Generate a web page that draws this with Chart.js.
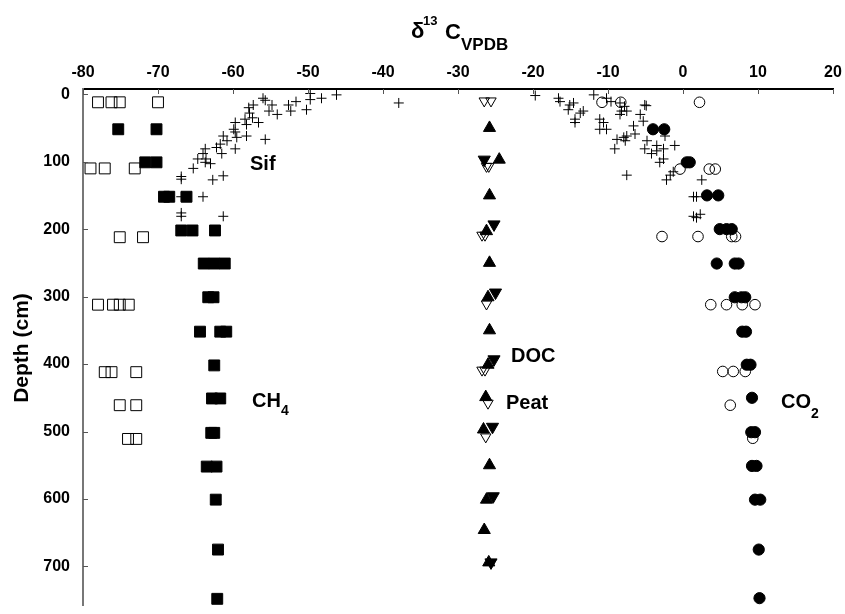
<!DOCTYPE html>
<html>
<head>
<meta charset="utf-8">
<script src="https://cdn.jsdelivr.net/npm/chart.js@4"></script>
<style>
  html, body { margin: 0; padding: 0; background: #ffffff; }
  #c { display: block; }
</style>
</head>
<body>
<canvas id="c" width="845" height="614"></canvas>
<script>
// ---- Data: [delta13C (‰ VPDB), depth (cm)] ----
const xTickValues = [-80, -70, -60, -50, -40, -30, -20, -10, 0, 10, 20];
const depthTickValues = [0, 100, 200, 300, 400, 500, 600, 700];

const ch4Open = [
  [-78.0, 12], [-76.2, 12], [-75.1, 12], [-70.0, 12],
  [-79.0, 110], [-77.1, 110], [-73.1, 110],
  [-75.1, 212], [-72.0, 212],
  [-78.0, 312], [-76.0, 312], [-75.1, 312], [-73.9, 312],
  [-77.1, 412], [-76.2, 412], [-72.9, 412],
  [-75.1, 461], [-72.9, 461],
  [-74.0, 511], [-72.9, 511]
];
const ch4Filled = [
  [-75.3, 52], [-70.2, 52],
  [-71.7, 101], [-70.2, 101],
  [-69.2, 152], [-68.5, 152], [-66.2, 152],
  [-66.9, 202], [-65.4, 202], [-62.4, 202],
  [-63.9, 251], [-62.5, 251], [-61.1, 251],
  [-63.3, 301], [-62.6, 301],
  [-64.4, 352], [-61.7, 352], [-60.9, 352],
  [-62.5, 402],
  [-62.8, 451], [-61.7, 451],
  [-62.9, 502], [-62.5, 502],
  [-63.5, 552], [-62.2, 552],
  [-62.3, 601],
  [-62.0, 675],
  [-62.1, 748]
];
const sif = [
  [-49.7, -1], [-48.2, 6], [-46.2, 1], [-49.7, 8], [-56.0, 6], [-55.7, 9],
  [-57.3, 16], [-57.9, 20], [-54.8, 16], [-55.2, 25], [-54.1, 30], [-52.6, 16],
  [-51.6, 11], [-52.3, 25], [-50.2, 23], [-57.8, 28], [-57.4, 35], [-58.4, 37],
  [-56.6, 42], [-58.2, 45], [-59.7, 42], [-59.9, 52], [-59.7, 56], [-58.2, 62],
  [-55.7, 67], [-59.5, 64], [-61.3, 62], [-60.8, 69], [-61.7, 74], [-62.2, 79],
  [-59.7, 81], [-63.7, 81], [-64.0, 88], [-61.5, 88], [-63.6, 96], [-64.7, 96],
  [-63.0, 103], [-63.7, 101], [-65.3, 110], [-66.9, 122], [-66.9, 126],
  [-62.7, 127], [-61.3, 121], [-64.0, 152], [-66.9, 152], [-66.9, 176],
  [-66.9, 181], [-61.3, 181], [-37.9, 13],
  [-19.7, 2], [-16.6, 6], [-16.4, 11], [-15.1, 16], [-15.3, 23], [-14.6, 13],
  [-13.3, 25], [-13.7, 28], [-14.4, 37], [-14.4, 42], [-11.9, 1], [-10.2, 6],
  [-8.4, 13], [-8.2, 25], [-8.4, 30], [-7.5, 25], [-5.1, 16], [-5.7, 30],
  [-5.3, 40], [-6.6, 47], [-11.1, 37], [-10.6, 42], [-11.1, 52], [-10.2, 52],
  [-6.4, 59], [-7.5, 62], [-7.9, 64], [-8.8, 67], [-9.1, 81], [-7.7, 69],
  [-4.8, 69], [-5.1, 81], [-4.2, 88], [-3.5, 76], [-2.6, 81], [-2.4, 62],
  [-1.1, 76], [-3.5, 84], [-3.1, 101], [-2.6, 96], [-7.5, 120], [-2.2, 127],
  [-1.7, 120], [-1.3, 115], [2.5, 127], [1.4, 152], [1.8, 152], [1.4, 181],
  [2.3, 178], [1.8, 183], [-9.6, 11], [-7.8, 18], [-4.9, 17]
];
const co2Open = [
  [-10.8, 12], [-8.3, 12], [2.2, 12],
  [-0.4, 111], [3.5, 111], [4.3, 111],
  [-2.8, 211], [2.0, 211], [6.5, 211], [7.0, 211],
  [3.7, 312], [5.8, 312], [7.9, 312], [9.6, 312],
  [5.3, 411], [6.7, 411], [8.3, 411],
  [6.3, 461],
  [9.3, 510]
];
const co2Filled = [
  [-4.0, 52], [-2.5, 52],
  [0.5, 101], [0.9, 101],
  [3.2, 150], [4.7, 150],
  [4.9, 200], [5.8, 200], [6.5, 200],
  [4.5, 251], [6.9, 251], [7.4, 251],
  [6.9, 301], [7.8, 301], [8.3, 301],
  [7.9, 352], [8.4, 352],
  [8.5, 401], [9.0, 401],
  [9.2, 450],
  [9.1, 501], [9.6, 501],
  [9.2, 551], [9.8, 551],
  [9.6, 601], [10.3, 601],
  [10.1, 675],
  [10.2, 747]
];
const peatUp = [
  [-25.8, 50], [-24.5, 97], [-25.8, 150], [-26.2, 203], [-25.8, 250],
  [-26.0, 301], [-25.8, 350], [-26.0, 401], [-26.3, 449], [-26.6, 497],
  [-25.8, 550], [-26.2, 601], [-26.5, 646], [-25.9, 694]
];
const docDown = [
  [-26.5, 97], [-25.2, 193], [-25.0, 294], [-25.2, 393], [-25.4, 493],
  [-25.3, 596], [-25.6, 694]
];
const docOpen = [
  [-26.5, 10], [-25.6, 10], [-26.2, 107], [-25.9, 107], [-26.8, 209],
  [-26.4, 209], [-26.2, 311], [-26.8, 409], [-26.4, 409], [-26.0, 458],
  [-26.3, 508]
];

const FONT = '"Liberation Sans", Arial, sans-serif';
const toPts = arr => arr.map(p => ({ x: p[0], y: p[1] }));

function ds(label, arr, style, opts) {
  return Object.assign({
    label: label,
    data: toPts(arr),
    showLine: false,
    pointStyle: style,
    borderColor: '#000',
    backgroundColor: '#000',
    borderWidth: 1,
    pointRadius: 5,
    pointHoverRadius: 5
  }, opts || {});
}

const datasets = [
  ds('CO2 filled', co2Filled, 'circle', { pointRadius: 5.6 }),
  ds('CH4 filled', ch4Filled, 'rect', { pointRadius: 7.7 }),
  ds('Peat', peatUp, 'triangle', { pointRadius: 7 }),
  ds('DOC', docDown, 'triangle', { pointRadius: 7, rotation: 180 }),
  ds('Sif', sif, 'cross', { pointRadius: 5, backgroundColor: 'rgba(0,0,0,0)' }),
  ds('DOC open', docOpen, 'triangle', { pointRadius: 6, rotation: 180, backgroundColor: 'rgba(0,0,0,0)' }),
  ds('CO2 open', co2Open, 'circle', { pointRadius: 5.3, backgroundColor: 'rgba(0,0,0,0)' }),
  ds('CH4 open', ch4Open, 'rect', { pointRadius: 7.7, backgroundColor: 'rgba(0,0,0,0)' })
];

const annotate = {
  id: 'annotate',
  afterDraw(chart) {
    const ctx = chart.ctx;
    const xs = chart.scales.x, ys = chart.scales.y;
    ctx.save();
    // inward tick marks
    ctx.strokeStyle = '#555';
    ctx.lineWidth = 1;
    ctx.beginPath();
    xTickValues.forEach(v => {
      const px = Math.round(xs.getPixelForValue(v)) + 0.5;
      ctx.moveTo(px, ys.top);
      ctx.lineTo(px, ys.top + 5);
    });
    depthTickValues.forEach(v => {
      const py = Math.round(ys.getPixelForValue(v)) + 0.5;
      ctx.moveTo(xs.left, py);
      ctx.lineTo(xs.left + 5, py);
    });
    ctx.stroke();

    ctx.fillStyle = '#000';
    ctx.textBaseline = 'alphabetic';
    ctx.textAlign = 'left';
    // axis title: δ13 C VPDB
    ctx.font = 'bold 22px ' + FONT;
    ctx.fillText('δ', 411, 38);
    ctx.font = 'bold 13px ' + FONT;
    ctx.fillText('13', 423, 25);
    ctx.font = 'bold 22px ' + FONT;
    ctx.fillText('C', 445, 39);
    ctx.font = 'bold 17px ' + FONT;
    ctx.fillText('VPDB', 461, 50);

    // series labels
    ctx.font = 'bold 20px ' + FONT;
    ctx.fillText('Sif', 250, 170);
    ctx.fillText('CH', 252, 407);
    ctx.fillText('CO', 781, 408);
    ctx.fillText('DOC', 511, 362);
    ctx.fillText('Peat', 506, 409);
    ctx.font = 'bold 14px ' + FONT;
    ctx.fillText('4', 281, 415);
    ctx.fillText('2', 811, 418);

    // y-axis title
    ctx.save();
    ctx.translate(22, 348);
    ctx.rotate(-Math.PI / 2);
    ctx.textAlign = 'center';
    ctx.textBaseline = 'middle';
    ctx.font = 'bold 21px ' + FONT;
    ctx.fillText('Depth (cm)', 0, 0);
    ctx.restore();
    ctx.restore();
  }
};

new Chart(document.getElementById('c'), {
  type: 'scatter',
  data: { datasets: datasets },
  options: {
    responsive: false,
    animation: false,
    devicePixelRatio: 1,
    layout: { padding: { top: 0, left: 0, right: 12, bottom: 0 } },
    plugins: { legend: { display: false }, tooltip: { enabled: false }, title: { display: false } },
    scales: {
      x: {
        type: 'linear',
        position: 'top',
        min: -80,
        max: 20,
        afterBuildTicks: s => { s.ticks = xTickValues.map(v => ({ value: v })); },
        afterFit: s => { s.height = 89; s.paddingLeft = 0; s.paddingRight = 0; },
        ticks: {
          color: '#000',
          padding: 7,
          maxRotation: 0,
          autoSkip: false,
          font: { family: FONT, size: 16, weight: 'bold' }
        },
        grid: { display: false, drawTicks: false },
        border: { display: true, color: '#000', width: 2 }
      },
      y: {
        type: 'linear',
        reverse: true,
        min: -7.7,
        max: 757.6,
        afterBuildTicks: s => { s.ticks = depthTickValues.map(v => ({ value: v })); },
        afterFit: s => { s.width = 83; s.paddingTop = 0; s.paddingBottom = 0; },
        ticks: {
          color: '#000',
          padding: 13,
          autoSkip: false,
          font: { family: FONT, size: 16, weight: 'bold' }
        },
        grid: { display: false, drawTicks: false },
        border: { display: true, color: '#777', width: 2 }
      }
    }
  },
  plugins: [annotate]
});
</script>
</body>
</html>
